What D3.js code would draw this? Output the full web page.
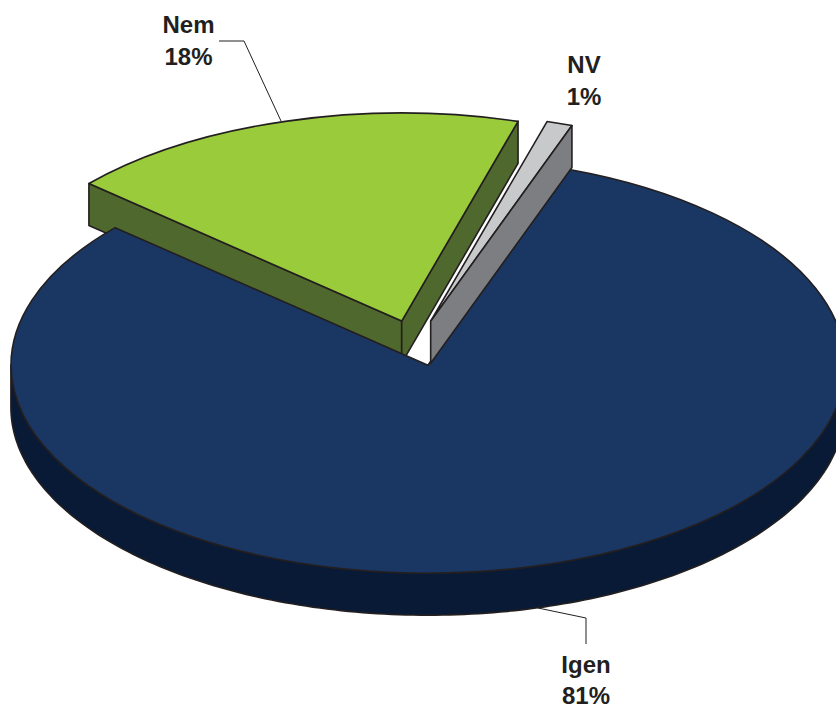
<!DOCTYPE html>
<html><head><meta charset="utf-8">
<script src="https://cdnjs.cloudflare.com/ajax/libs/d3/7.8.5/d3.min.js"></script>
<style>html,body{margin:0;padding:0;background:#fff;overflow:hidden}svg{display:block}</style>
</head><body>
<svg id="c" width="836" height="707"></svg>
<script>
const categories = ["Igen", "Nem", "NV"];
const values = [81, 18, 1];
const percentLabels = ["81%", "18%", "1%"];
const topColors = ["#1a3663", "#9acb3b", "#c8c9cb"];
const sideColors = ["#081a35", "#4f682d", "#7d7e82"];

(function () {
const cx = 416.5, cy = 343, rx = 417, ry = 208, depth = 42, explode = 0.11;
const nudgeX = [0, -2, 0];
const edge = "#231f20";
const svg = d3.select("#c");

const startDeg = 19.8;
const pie = d3.pie().sort(null).value(d => d)
  .startAngle(startDeg * Math.PI / 180)
  .endAngle((startDeg + 360) * Math.PI / 180);
const slices = pie(values).map((s, i) => {
  const mid = (s.startAngle + s.endAngle) / 2;
  return { ...s, i, ox: cx + nudgeX[i] + explode * rx * Math.sin(mid), oy: cy - explode * ry * Math.cos(mid) };
});
const unitArc = d3.arc().innerRadius(0).outerRadius(1);
const line = d3.line();
const px = (s, a) => [s.ox + rx * Math.sin(a), s.oy - ry * Math.cos(a)];

function drawTop(g, s) {
  g.append("path").attr("d", unitArc(s))
    .attr("transform", `translate(${s.ox},${s.oy}) scale(${rx},${ry})`)
    .attr("fill", topColors[s.i]).attr("stroke", edge).attr("stroke-width", 1.6)
    .attr("stroke-linejoin", "round").attr("vector-effect", "non-scaling-stroke");
}
function wall(g, s, pts) {
  const low = pts.slice().reverse().map(p => [p[0], p[1] + depth]);
  g.append("path").attr("d", line(pts.concat(low)) + "Z")
    .attr("fill", sideColors[s.i]).attr("stroke", edge).attr("stroke-width", 1.6)
    .attr("stroke-linejoin", "round");
}
function radialWall(g, s, a) { wall(g, s, [[s.ox, s.oy], px(s, a)]); }

const g = svg.append("g");
const [igen, nem, nv] = slices;

// Nem walls sit behind the Igen top surface
radialWall(g, nem, nem.startAngle);
radialWall(g, nem, nem.endAngle);

// Igen rim: front half of the ellipse
const rim = d3.range(90, 270.01, 1).map(d => px(igen, d * Math.PI / 180));
wall(g, igen, rim);
drawTop(g, igen);

// NV
drawTop(g, nv);
radialWall(g, nv, nv.endAngle);

drawTop(g, nem);

// Leaders
const leaders = svg.append("g").attr("fill", "none").attr("stroke", edge).attr("stroke-width", 1);
leaders.append("path").attr("d", line([[219, 41], [244, 41], [281, 121]]));
leaders.append("path").attr("d", line([[586, 644], [586, 618], [538, 608]]));

// Labels
const labelPos = [[586, 673, 704], [188.5, 33, 65], [584, 73, 105]];
const t = svg.append("g").attr("font-family", "'Liberation Sans', Arial, sans-serif")
  .attr("font-weight", "bold").attr("font-size", 24).attr("fill", edge).attr("text-anchor", "middle");
categories.forEach((c, i) => {
  t.append("text").attr("x", labelPos[i][0]).attr("y", labelPos[i][1]).text(c);
  t.append("text").attr("x", labelPos[i][0]).attr("y", labelPos[i][2]).text(percentLabels[i]);
});
})();
</script>
</body></html>
